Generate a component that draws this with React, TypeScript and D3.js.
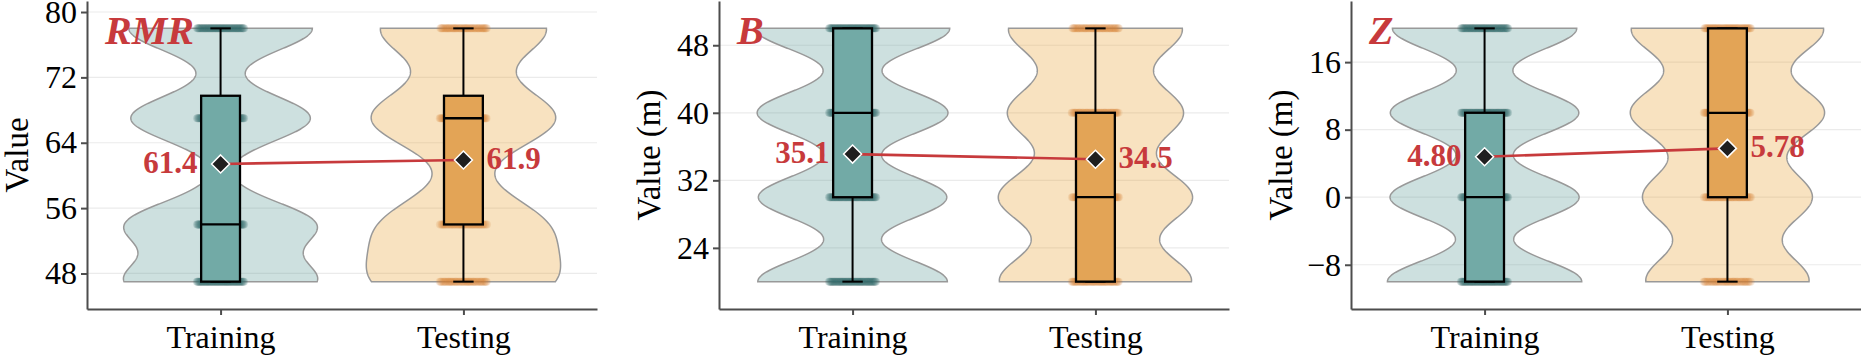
import { useEffect, useRef } from "react";
import * as d3 from "d3";

// categories on the x axis
const categories = ["Training", "Testing"];

// each panel: the distinct values and how many samples sit on each
const rmrLevels = [47, 54, 67, 78];
const rmrTraining = [324, 323, 313, 320];
const rmrTesting = [79, 72, 89, 80];
const rmrTicks = [48, 56, 64, 72, 80];

const bLevels = [20, 30, 40, 50];
const bTraining = [318, 316, 320, 326];
const bTesting = [84, 84, 76, 76];
const bTicks = [24, 32, 40, 48];

const zLevels = [-10, 0, 10, 20];
const zTraining = [329, 320, 319, 312];
const zTesting = [73, 75, 86, 86];
const zTicks = [-8, 0, 8, 16];

const panelNames = ["RMR", "B", "Z"];
const yTitles = ["Value", "Value (m)", "Value (m)"];

const FONT = "'Liberation Serif', 'Times New Roman', serif";
const RED = "#C73A3C";
const AXIS = "#4d4d4d";
const violinFill = ["#589894", "#E89E2D"];
const boxFill = ["#72AAA6", "#E3A456"];
const pointFill = ["#2F7A75", "#D57F2E"];

const expand = (levels: number[], counts: number[]) =>
  levels.flatMap((v, i) => d3.range(counts[i]).map(() => v));

const nrd0 = (values: number[]) => {
  const sd = d3.deviation(values)!;
  const iqr = d3.quantile(values, 0.75)! - d3.quantile(values, 0.25)!;
  return 0.9 * Math.min(sd, iqr / 1.34) * Math.pow(values.length, -0.2);
};

const App = () => {
  const svgRef = useRef<SVGSVGElement | null>(null);

  useEffect(() => {
    const svg = d3.select(svgRef.current);
    svg.selectAll("*").remove();

    const panelW = 510;
    const bottom = 309;
    const top = 1;
    const lefts = [87, 719, 1351];

    const panels = [
      { levels: rmrLevels, groups: [rmrTraining, rmrTesting], ticks: rmrTicks },
      { levels: bLevels, groups: [bTraining, bTesting], ticks: bTicks },
      { levels: zLevels, groups: [zTraining, zTesting], ticks: zTicks },
    ];

    panels.forEach((p, pi) => {
      const left = lefts[pi];
      const [lo, hi] = d3.extent(p.levels) as [number, number];
      const pad = (hi - lo) * 0.108;

      const y = d3
        .scaleLinear()
        .domain([lo - pad, hi + pad])
        .range([bottom, top]);
      const x = d3
        .scalePoint<string>()
        .domain(categories)
        .range([left, left + panelW])
        .padding(0.55);
      const unit = x.step();

      const g = svg.append("g");

      // grid
      g.selectAll(".grid")
        .data(p.ticks)
        .enter()
        .append("line")
        .attr("x1", left)
        .attr("x2", left + panelW)
        .attr("y1", (d) => y(d))
        .attr("y2", (d) => y(d))
        .attr("stroke", "#ebebeb")
        .attr("stroke-width", 1.2);

      const stats = p.groups.map((counts, gi) => {
        const values = expand(p.levels, counts).sort(d3.ascending);
        const q1 = d3.quantile(values, 0.25)!;
        const med = d3.quantile(values, 0.5)!;
        const q3 = d3.quantile(values, 0.75)!;
        const iqr = q3 - q1;
        const wLo = d3.min(values.filter((v) => v >= q1 - 1.5 * iqr))!;
        const wHi = d3.max(values.filter((v) => v <= q3 + 1.5 * iqr))!;
        const mean = d3.mean(values)!;
        const bw = nrd0(values) * 1.07;
        const grid = d3.range(512).map((k) => lo + ((hi - lo) * k) / 511);
        const dens = grid.map((t) =>
          d3.sum(p.levels, (lv, i) => counts[i] * Math.exp(-0.5 * ((t - lv) / bw) ** 2))
        );
        const maxD = d3.max(dens)!;
        const violin = grid.map((t, k) => ({ v: t, w: dens[k] / maxD }));
        return { gi, values, q1, med, q3, wLo, wHi, mean, violin, cx: x(categories[gi])! };
      });

      // violins
      stats.forEach((s) => {
        const half = 0.4 * unit;
        const area = d3
          .area<{ v: number; w: number }>()
          .y((d) => y(d.v))
          .x0((d) => s.cx - d.w * half)
          .x1((d) => s.cx + d.w * half);
        g.append("path")
          .attr("d", area(s.violin)!)
          .attr("fill", violinFill[s.gi])
          .attr("fill-opacity", 0.3)
          .attr("stroke", "#999")
          .attr("stroke-width", 1.5);
      });

      // jittered points
      stats.forEach((s) => {
        const jit = 0.098 * unit;
        g.append("g")
          .selectAll("circle")
          .data(s.values)
          .enter()
          .append("circle")
          .attr("cx", (_, i) => s.cx + (((i * 0.6180339887) % 1) * 2 - 1) * jit)
          .attr("cy", (d) => y(d))
          .attr("r", 4)
          .attr("fill", pointFill[s.gi])
          .attr("fill-opacity", s.gi === 0 ? 0.035 : 0.1);
      });

      // boxes
      stats.forEach((s) => {
        const bh = 0.08 * unit;
        const cap = 0.042 * unit;
        const bg = g.append("g").attr("stroke", "#000");
        bg.append("line")
          .attr("x1", s.cx)
          .attr("x2", s.cx)
          .attr("y1", y(s.wLo))
          .attr("y2", y(s.wHi))
          .attr("stroke-width", 2);
        [s.wLo, s.wHi].forEach((v) =>
          bg
            .append("line")
            .attr("x1", s.cx - cap)
            .attr("x2", s.cx + cap)
            .attr("y1", y(v))
            .attr("y2", y(v))
            .attr("stroke-width", 2)
        );
        bg.append("rect")
          .attr("x", s.cx - bh)
          .attr("y", y(s.q3))
          .attr("width", bh * 2)
          .attr("height", y(s.q1) - y(s.q3))
          .attr("fill", boxFill[s.gi])
          .attr("stroke-width", 2.3);
        bg.append("line")
          .attr("x1", s.cx - bh)
          .attr("x2", s.cx + bh)
          .attr("y1", y(s.med))
          .attr("y2", y(s.med))
          .attr("stroke-width", 2.3);
      });

      // mean line, diamonds, labels
      g.append("path")
        .attr(
          "d",
          d3
            .line<(typeof stats)[number]>()
            .x((s) => s.cx)
            .y((s) => y(s.mean))(stats)!
        )
        .attr("stroke", RED)
        .attr("stroke-width", 2.6)
        .attr("fill", "none");

      stats.forEach((s) => {
        const my = y(s.mean);
        const r = 9;
        g.append("path")
          .attr("d", `M${s.cx},${my - r}L${s.cx + r},${my}L${s.cx},${my + r}L${s.cx - r},${my}Z`)
          .attr("fill", "#1f1f1f")
          .attr("stroke", "#fff")
          .attr("stroke-width", 1.5);
        g.append("text")
          .attr("x", s.gi === 0 ? s.cx - 23 : s.cx + 23)
          .attr("y", my + 9)
          .attr("text-anchor", s.gi === 0 ? "end" : "start")
          .attr("font-family", FONT)
          .attr("font-weight", "bold")
          .attr("font-size", 31)
          .attr("fill", RED)
          .text(d3.format(".3r")(s.mean));
      });

      // axes
      const ax = g
        .append("g")
        .attr("transform", `translate(${left},0)`)
        .call(d3.axisLeft(y).tickValues(p.ticks).tickSize(6).tickSizeOuter(0).tickPadding(4));
      const bx = g
        .append("g")
        .attr("transform", `translate(0,${bottom})`)
        .call(d3.axisBottom(x).tickSize(6).tickSizeOuter(0).tickPadding(10));
      [ax, bx].forEach((a) => {
        a.attr("font-family", FONT).attr("font-size", 32);
        a.select(".domain").attr("stroke", AXIS).attr("stroke-width", 2);
        a.selectAll(".tick line").attr("stroke", AXIS).attr("stroke-width", 2);
        a.selectAll(".tick text").attr("fill", "#000");
      });

      // titles
      g.append("text")
        .attr("transform", `translate(${left - 59},155) rotate(-90)`)
        .attr("text-anchor", "middle")
        .attr("font-family", FONT)
        .attr("font-size", 33)
        .text(yTitles[pi]);

      g.append("text")
        .attr("x", left + 18)
        .attr("y", 44)
        .attr("font-family", FONT)
        .attr("font-weight", "bold")
        .attr("font-style", "italic")
        .attr("font-size", 40)
        .attr("fill", RED)
        .text(panelNames[pi]);
    });
  }, []);

  return (
    <svg
      ref={svgRef}
      width={1861}
      height={356}
      style={{ position: "absolute", left: 0, top: 0, background: "#fff" }}
    ></svg>
  );
};

export default App;
